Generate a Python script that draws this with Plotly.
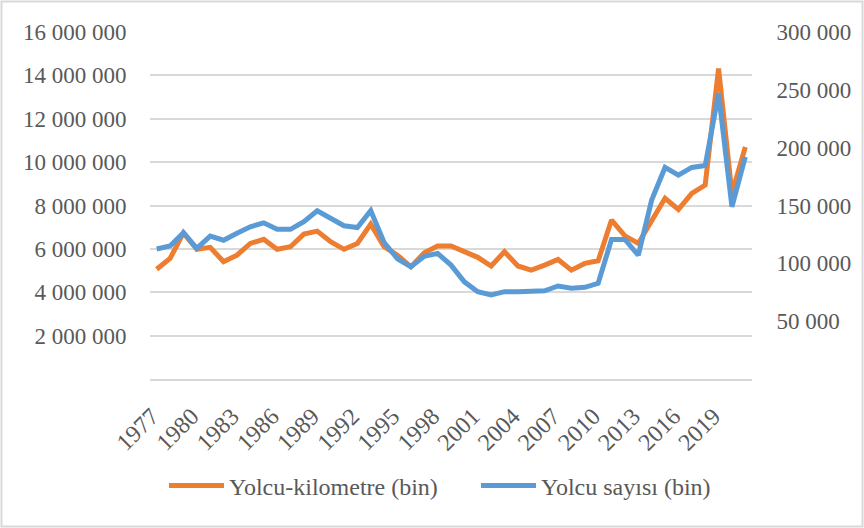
import plotly.graph_objects as go

years = [str(y) for y in range(1977, 2022)]

yolcu_km = [5.06, 5.56, 6.74, 5.98, 6.07, 5.41, 5.71, 6.25, 6.44, 5.98,
            6.10, 6.68, 6.82, 6.33, 5.98, 6.25, 7.14, 6.10, 5.71, 5.17,
            5.82, 6.13, 6.13, 5.87, 5.61, 5.21, 5.87, 5.21, 5.02, 5.25,
            5.51, 5.02, 5.33, 5.45, 7.33, 6.60, 6.25, 7.30, 8.33, 7.82,
            8.56, 8.94, 14.32, 8.56, 10.70]
yolcu_km = [v * 1_000_000 for v in yolcu_km]

yolcu_sayisi = [112.4, 115.0, 126.5, 113.0, 123.6, 120.0, 126.0, 131.6, 135.0, 129.4,
                129.4, 136.0, 145.5, 138.9, 132.5, 131.0, 145.5, 118.0, 104.0, 97.0,
                106.0, 108.6, 98.5, 84.0, 75.5, 72.6, 75.5, 75.5, 75.5, 76.3,
                80.4, 78.4, 79.3, 82.7, 120.7, 120.7, 107.0, 154.7, 182.9, 176.3,
                182.9, 184.5, 246.9, 148.9, 192.0]
yolcu_sayisi = [v * 1000 for v in yolcu_sayisi]

left_ticks = [2_000_000, 4_000_000, 6_000_000, 8_000_000, 10_000_000, 12_000_000, 14_000_000, 16_000_000]
left_labels = ["2 000 000", "4 000 000", "6 000 000", "8 000 000", "10 000 000", "12 000 000", "14 000 000", "16 000 000"]
right_ticks = [50_000, 100_000, 150_000, 200_000, 250_000, 300_000]
right_labels = ["50 000", "100 000", "150 000", "200 000", "250 000", "300 000"]
x_ticks = [str(y) for y in range(1977, 2022, 3)]

ORANGE = "#ED7D31"
BLUE = "#5B9BD5"
TXT = "#595959"
GRID = "#D9D9D9"
FONT = "Liberation Serif, Times New Roman, serif"

fig = go.Figure()
fig.add_trace(go.Scatter(x=years, y=yolcu_km, name="Yolcu-kilometre (bin)", mode="lines",
                         line=dict(color=ORANGE, width=5), yaxis="y", legend="legend"))
fig.add_trace(go.Scatter(x=years, y=yolcu_sayisi, name="Yolcu sayısı (bin)", mode="lines",
                         line=dict(color=BLUE, width=5), yaxis="y2", legend="legend2"))

L, R, T, B = 150, 112, 32, 149
W, H = 864, 528
pw, ph = W - L - R, H - T - B

leg_common = dict(orientation="h", xref="container", yref="container", xanchor="left",
                  y=(H - 486) / H, yanchor="middle", itemwidth=55,
                  font=dict(family=FONT, size=24, color=TXT), bgcolor="rgba(0,0,0,0)")

fig.update_layout(
    width=W, height=H,
    margin=dict(l=L, r=R, t=T, b=B, pad=0, autoexpand=False),
    paper_bgcolor="white", plot_bgcolor="white",
    font=dict(family=FONT, size=20, color=TXT),
    showlegend=True,
    legend=dict(x=164 / W, **leg_common),
    legend2=dict(x=476 / W, **leg_common),
    xaxis=dict(type="category", range=[-0.5, 44.5], tickmode="array", tickvals=x_ticks,
               ticktext=x_ticks, tickangle=-45, showgrid=False, showline=True,
               linecolor=GRID, linewidth=1.5, ticks="outside", ticklen=12,
               ticklabelshift=-5,
               tickcolor="rgba(0,0,0,0)", tickfont=dict(family=FONT, size=24, color=TXT),
               zeroline=False, fixedrange=True, automargin=False),
    yaxis=dict(range=[0, 16_000_000], tickmode="array", tickvals=left_ticks, ticktext=left_labels,
               showgrid=True, gridcolor=GRID, gridwidth=1.5, zeroline=False, showline=False,
               ticks="outside", ticklen=18, tickcolor="rgba(0,0,0,0)", automargin=False,
               tickfont=dict(family=FONT, size=23, color=TXT)),
    yaxis2=dict(range=[0, 300_000], overlaying="y", side="right", tickmode="array",
                tickvals=right_ticks, ticktext=right_labels, showgrid=False, zeroline=False,
                showline=False, ticks="outside", ticklen=19, tickcolor="rgba(0,0,0,0)",
                automargin=False, tickfont=dict(family=FONT, size=23, color=TXT)),
    shapes=[dict(type="rect", xref="paper", yref="paper",
                 x0=-(L - 1.5) / pw, x1=1 + (R - 1.5) / pw,
                 y0=-(B - 1.5) / ph, y1=1 + (T - 1.5) / ph,
                 line=dict(color=GRID, width=2), fillcolor="rgba(0,0,0,0)", layer="below")],
)

fig.write_html("out.html", config={"displayModeBar": False},
               post_script="document.body.style.margin='0';document.body.style.overflow='hidden';")
